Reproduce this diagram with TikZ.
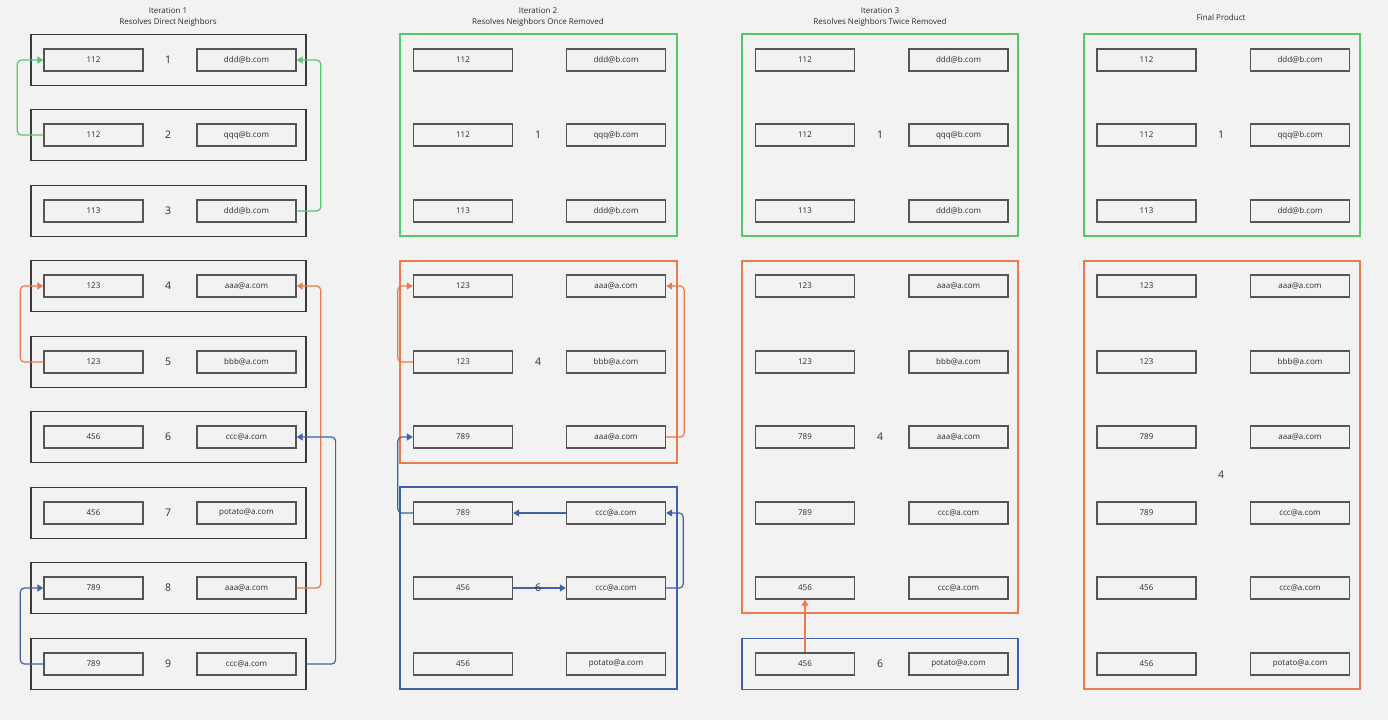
\documentclass[tikz,border=0pt]{standalone}
\usepackage{fontspec}
\setmainfont{Open Sans}
\usepackage{tikz}
\usetikzlibrary{arrows.meta, positioning, calc}
\definecolor{pagebg}{HTML}{F2F2F2}
\definecolor{boxline}{HTML}{555555}
\definecolor{rowline}{HTML}{3A3A3A}
\definecolor{txtdark}{HTML}{2B2B2B}
\definecolor{linkgreen}{HTML}{55C86C}
\definecolor{linkorange}{HTML}{E97B4C}
\definecolor{linkblue}{HTML}{3F62AA}

\begin{document}
\begin{tikzpicture}[x=1pt, y=-1pt,
  cell/.style={draw=boxline, line width=1.4pt, fill=pagebg, minimum width=99pt,
               minimum height=22pt, inner sep=0pt, text=txtdark,
               font=\fontsize{8}{9}\selectfont},
  row/.style={draw=rowline, line width=1.2pt, minimum width=275pt, minimum height=51pt, inner sep=0pt},
  group/.style={draw=#1, line width=1.3pt, inner sep=0pt},
  num/.style={text=txtdark, font=\fontsize{10.5}{12}\selectfont},
  ttl/.style={text=txtdark, align=center, font=\fontsize{8}{11}\selectfont},
  link/.style={draw=#1, line width=1.2pt, rounded corners=4pt,
               -{Triangle[length=6pt, width=7pt]}},
]
  % background and page size
  \fill[pagebg] (0,0) rectangle (1388,720);

  % titles
  \node[ttl] (title1) at (168,17) {Iteration 1\\Resolves Direct Neighbors};
  \node[ttl] (title2) at (538,17) {Iteration 2\\Resolves Neighbors Once Removed};
  \node[ttl] (title3) at (880,17) {Iteration 3\\Resolves Neighbors Twice Removed};
  \node[ttl] (title4) at (1221,17) {Final Product};

  % iteration 1: one row per record
  \foreach \y/\id/\mail [count=\i] in {60/112/ddd@b.com, 135/112/qqq@b.com, 211/113/ddd@b.com,
      286/123/aaa@a.com, 362/123/bbb@a.com, 437/456/ccc@a.com, 513/456/potato@a.com,
      588/789/aaa@a.com, 664/789/ccc@a.com} {
    \node[row] (row\i) at (168.5,\y) {};
    \node[cell] (oneid\i) at (93.5,\y) {\id};
    \node[cell] (onemail\i) at (246.5,\y) {\mail};
    \node[num] (onenum\i) at (168,\y) {\i};
  }

  % iteration 2: groups after one pass
  \node[group=linkgreen, minimum width=277pt, minimum height=202pt] (twogreen) at (538.5,135) {};
  \node[group=linkorange, minimum width=277pt, minimum height=202pt] (twoorange) at (538.5,362) {};
  \node[group=linkblue, minimum width=277pt, minimum height=202pt] (twoblue) at (538.5,588) {};
  \foreach \y/\id/\mail [count=\i] in {60/112/ddd@b.com, 135/112/qqq@b.com, 211/113/ddd@b.com,
      286/123/aaa@a.com, 362/123/bbb@a.com, 437/789/aaa@a.com, 513/789/ccc@a.com,
      588/456/ccc@a.com, 664/456/potato@a.com} {
    \node[cell] (twoid\i) at (463,\y) {\id};
    \node[cell] (twomail\i) at (616,\y) {\mail};
  }
  \node[num] (twonum1) at (538,135) {1};
  \node[num] (twonum4) at (538,362) {4};

  % iteration 3: groups after two passes
  \node[group=linkgreen, minimum width=276pt, minimum height=202pt] (threegreen) at (880,135) {};
  \node[group=linkorange, minimum width=276pt, minimum height=352pt] (threeorange) at (880,437) {};
  \node[group=linkblue, minimum width=276pt, minimum height=51pt] (threeblue) at (880,664) {};
  \foreach \y/\id/\mail [count=\i] in {60/112/ddd@b.com, 135/112/qqq@b.com, 211/113/ddd@b.com,
      286/123/aaa@a.com, 362/123/bbb@a.com, 437/789/aaa@a.com, 513/789/ccc@a.com,
      588/456/ccc@a.com, 664/456/potato@a.com} {
    \node[cell] (threeid\i) at (805,\y) {\id};
    \node[cell] (threemail\i) at (958.5,\y) {\mail};
  }
  \node[num] (threenum1) at (880,135) {1};
  \node[num] (threenum4) at (880,437) {4};
  \node[num] (threenum6) at (880,664) {6};

  % final product
  \node[group=linkgreen, minimum width=276pt, minimum height=202pt] (fingreen) at (1222,135) {};
  \node[group=linkorange, minimum width=276pt, minimum height=428pt] (finorange) at (1222,475) {};
  \foreach \y/\id/\mail [count=\i] in {60/112/ddd@b.com, 135/112/qqq@b.com, 211/113/ddd@b.com,
      286/123/aaa@a.com, 362/123/bbb@a.com, 437/789/aaa@a.com, 513/789/ccc@a.com,
      588/456/ccc@a.com, 664/456/potato@a.com} {
    \node[cell] (finid\i) at (1146.5,\y) {\id};
    \node[cell] (finmail\i) at (1300,\y) {\mail};
  }
  \node[num] (finnum1) at (1221,135) {1};
  \node[num] (finnum4) at (1221,475) {4};

  % links, iteration 1
  \draw[link=linkgreen] (oneid2.west) -- ++(-26,0) |- (oneid1.west);
  \draw[link=linkgreen] (onemail3.east) -- ++(24,0) |- (onemail1.east);
  \draw[link=linkorange] (oneid5.west) -- ++(-23,0) |- (oneid4.west);
  \draw[link=linkorange] (onemail8.east) -- ++(24,0) |- (onemail4.east);
  \draw[link=linkblue] (oneid9.west) -- ++(-23,0) |- (oneid8.west);
  \draw[link=linkblue] (row9.east) -- ++(29,0) |- (onemail6.east);

  % links, iteration 2
  \draw[link=linkorange] (twoid5.west) -- ++(-15,0) |- (twoid4.west);
  \draw[link=linkorange] (twomail6.east) -- ++(18,0) |- (twomail4.east);
  \draw[link=linkblue] (twoid7.west) -- ++(-15,0) |- (twoid6.west);
  \draw[link=linkblue] (twomail7.west) -- (twoid7.east);
  \draw[link=linkblue] (twoid8.east) -- (twomail8.west);
  \draw[link=linkblue] (twomail8.east) -- ++(17,0) |- (twomail7.east);
  \node[num] (twonum6) at (538,588) {6};

  % links, iteration 3
  \draw[link=linkorange] (threeid9.north) -- (threeid8.south);
\end{tikzpicture}
\end{document}
